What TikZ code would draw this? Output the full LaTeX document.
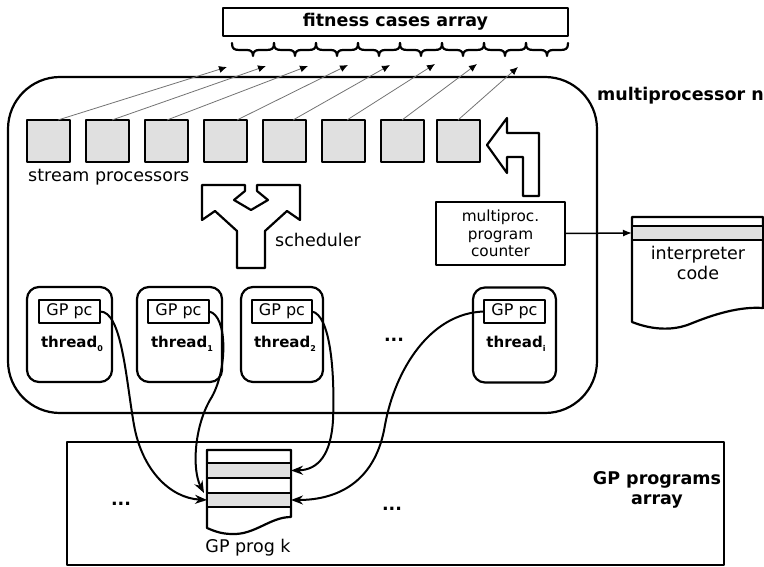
\documentclass[tikz,border=0pt]{standalone}
\usepackage{fontspec}
\setmainfont{DejaVu Sans}
\usetikzlibrary{arrows.meta,calc}
\definecolor{spgray}{RGB}{224,224,224}
\begin{document}
\begin{tikzpicture}[x=1pt,y=-1pt,line join=round,
 base/.style={font=\fontsize{17.5}{20}\selectfont},
 ol/.style={draw=black, line width=2.2pt},
 spbox/.style={ol, fill=spgray, minimum width=43pt, minimum height=42pt, inner sep=0pt, outer sep=0pt},
 thr/.style={ol, rounded corners=12pt, minimum height=95pt, inner sep=0pt, outer sep=0pt},
 gpc/.style={ol, minimum height=23pt, inner sep=0pt, outer sep=0pt, font=\fontsize{16}{18}\selectfont},
 tlab/.style={inner sep=0pt, font=\fontsize{15}{17}\selectfont\bfseries},
 feed/.style={draw=black!55, line width=0.8pt, -{Latex[length=8pt,width=7pt,color=black]}},
 link/.style={line width=2pt, -{Stealth[length=12pt,width=9pt]}},
 rowbox/.style={ol, minimum width=84pt, inner sep=0pt, outer sep=0pt},
 brc/.style={line width=2.2pt, line cap=round},
]
\useasboundingbox (0,0) rectangle (764,567);

% fitness cases array
\node[ol, base, minimum width=345pt, minimum height=28pt, inner sep=0pt, font=\fontsize{17.5}{20}\selectfont\bfseries] (fc) at (395.5,22) {fitness cases array};
\foreach \i in {0,...,7}{
  \pgfmathsetmacro{\xa}{232+42*\i}
  \draw[brc] (\xa,43) .. controls (\xa,49) and (\xa+2,50) .. (\xa+8,50) -- (\xa+15,50) .. controls (\xa+19,50) and (\xa+21,52) .. (\xa+21,56)
     .. controls (\xa+21,52) and (\xa+23,50) .. (\xa+27,50) -- (\xa+34,50) .. controls (\xa+40,50) and (\xa+42,49) .. (\xa+42,43);
}

% multiprocessor
\node[ol, rounded corners=52pt, minimum width=589pt, minimum height=336pt, inner sep=0pt, outer sep=0pt] (mp) at (302.5,245) {};
\node[base, font=\fontsize{17.5}{20}\selectfont\bfseries, anchor=west, inner sep=0pt] (mpn) at (597,96) {multiprocessor n};

% stream processors
\node[spbox] (s1) at (48.5,141) {};
\node[spbox] (s2) at (107.5,141) {};
\node[spbox] (s3) at (166.5,141) {};
\node[spbox] (s4) at (225.5,141) {};
\node[spbox] (s5) at (284.5,141) {};
\node[spbox] (s6) at (343.5,141) {};
\node[spbox] (s7) at (402.5,141) {};
\node[spbox] (s8) at (458.5,141) {};
\node[base, anchor=west, inner sep=0pt] (spl) at (28,177) {stream processors};

\coordinate (e1) at (227,67);
\coordinate (e2) at (266,66);
\coordinate (e3) at (308,66);
\coordinate (e4) at (348,65);
\coordinate (e5) at (390,65);
\coordinate (e6) at (435,64);
\coordinate (e7) at (477,64);
\coordinate (e8) at (518,67);
\draw[feed] ([xshift=9.5pt]s1.north) -- (e1);
\draw[feed] ([xshift=4.5pt]s2.north) -- (e2);
\draw[feed] ([xshift=0.5pt]s3.north) -- (e3);
\draw[feed] ([xshift=11.5pt]s4.north) -- (e4);
\draw[feed] ([xshift=8.5pt]s5.north) -- (e5);
\draw[feed] ([xshift=3.5pt]s6.north) -- (e6);
\draw[feed] ([xshift=-0.5pt]s7.north) -- (e7);
\draw[feed] ([xshift=-0.5pt]s8.north) -- (e8);

% scheduler shape
\draw[ol, fill=white] (202,185) -- (245,185) -- (245,191) -- (234,200) -- (251,210) -- (268,200) -- (257,191) -- (257,185) -- (300,185) -- (300,220) -- (287,211) -- (265,231) -- (265,268) -- (237,268) -- (237,231) -- (215,211) -- (202,220) -- cycle;
\node[base, inner sep=0pt] (sch) at (318,240) {scheduler};

% bent arrow
\draw[ol, fill=white] (487,145) -- (507,118) -- (507,133) -- (539,133) -- (539,196) -- (523,196) -- (523,157) -- (507,157) -- (507,173) -- cycle;

% multiproc program counter
\node[ol, minimum width=129pt, minimum height=63pt, inner sep=0pt, outer sep=0pt, align=center, font=\fontsize{15.3}{17.5}\selectfont] (mpc) at (500.5,233.5) {multiproc.\\program\\counter};

% interpreter code
\draw[ol, fill=white] (632,217) -- (763,217) -- (763,308) .. controls (735,306) and (705,318) .. (690,324) .. controls (675,330) and (655,331) .. (632,322) -- cycle;
\node[ol, fill=spgray, minimum width=131pt, minimum height=14pt, inner sep=0pt, outer sep=0pt] (icode) at (697.5,233) {};
\node[base, align=center, inner sep=0pt] (itxt) at (698,263) {interpreter\\code};
\draw[line width=1.5pt, -{Latex[length=9pt,width=7pt]}] (mpc.east) -- (icode.west);

% threads
\node[thr, minimum width=85pt] (t0) at (69.5,334.5) {};
\node[thr, minimum width=85pt] (t1) at (179.5,334.5) {};
\node[thr, minimum width=82pt] (t2) at (282,334.5) {};
\node[thr, minimum width=83pt] (ti) at (514.5,335) {};
\node[gpc, minimum width=61pt] (g0) at (69.5,311.5) {GP pc};
\node[gpc, minimum width=61pt] (g1) at (178.5,311.5) {GP pc};
\node[gpc, minimum width=60pt] (g2) at (282,311.5) {GP pc};
\node[gpc, minimum width=61pt] (gi) at (514.5,311.5) {GP pc};
\node[tlab] (l0) at (72,344) {thread\raisebox{-4pt}{\fontsize{8}{8}\selectfont 0}};
\node[tlab] (l1) at (182,344) {thread\raisebox{-4pt}{\fontsize{8}{8}\selectfont 1}};
\node[tlab] (l2) at (285,344) {thread\raisebox{-4pt}{\fontsize{8}{8}\selectfont 2}};
\node[tlab] (li) at (516,344) {thread\raisebox{-4pt}{\fontsize{8}{8}\selectfont i}};
\node[base, font=\fontsize{17.5}{20}\selectfont\bfseries, inner sep=0pt] (d1) at (394,340) {...};

% GP programs array
\node[ol, minimum width=657pt, minimum height=123pt, inner sep=0pt, outer sep=0pt] (gpa) at (395.5,503.5) {};
\node[base, font=\fontsize{17.5}{20}\selectfont\bfseries, align=center, inner sep=0pt] (gpal) at (657,490) {GP programs\\array};
\node[base, font=\fontsize{17.5}{20}\selectfont\bfseries, inner sep=0pt] (d2) at (121,504) {...};
\node[base, font=\fontsize{17.5}{20}\selectfont\bfseries, inner sep=0pt] (d3) at (392,509) {...};

% GP prog k
\draw[ol, fill=white] (207,450) -- (291,450) -- (291,517) .. controls (270,517) and (255,535) .. (232,534) .. controls (220,534) and (212,530) .. (207,528) -- cycle;
\node[rowbox, minimum height=13pt] (p1) at (249,456.5) {};
\node[rowbox, minimum height=15pt, fill=spgray] (p2) at (249,470.5) {};
\node[rowbox, minimum height=15pt] (p3) at (249,485.5) {};
\node[rowbox, minimum height=14pt, fill=spgray] (p4) at (249,500) {};
\node[base, inner sep=0pt] (gpk) at (248,548) {GP prog k};

% links
\draw[link] (g0.east) .. controls (122,311) and (126,380) .. (134,425) .. controls (142,470) and (170,498) .. (p4.west);
\draw[link] (g1.east) .. controls (228,315) and (228,372) .. (210,400) .. controls (194,428) and (192,470) .. ([xshift=-3pt]p4.north west);
\draw[link] (g2.east) .. controls (330,315) and (335,370) .. (333,420) .. controls (331,455) and (318,470) .. (p2.east);
\draw[link] (gi.west) .. controls (430,313) and (395,370) .. (385,425) .. controls (376,480) and (340,500) .. (p4.east);
\end{tikzpicture}
\end{document}
